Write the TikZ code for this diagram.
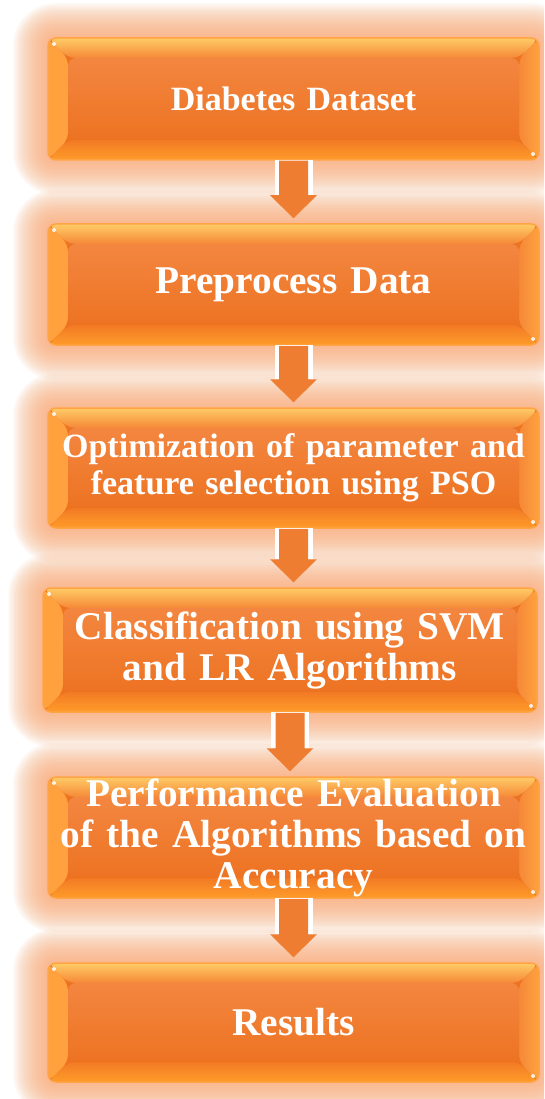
\documentclass[tikz,border=0pt]{standalone}
\usepackage{fontspec}
\setmainfont{Liberation Serif}
\usetikzlibrary{calc}
\pgfdeclarelayer{bg}
\pgfsetlayers{bg,main}
\definecolor{boxedge}{HTML}{FFA444}
\definecolor{bevTa}{HTML}{FFCB66}
\definecolor{bevTb}{HTML}{F58838}
\definecolor{bevBa}{HTML}{F27A24}
\definecolor{bevBb}{HTML}{FF9C2A}
\definecolor{bevSa}{HTML}{FFA23E}
\definecolor{bevSb}{HTML}{F58838}
\definecolor{inT}{HTML}{F38640}
\definecolor{inB}{HTML}{ED7322}
\definecolor{glowc}{HTML}{F9AE7C}
\definecolor{arrowc}{HTML}{EE7D31}
\tikzset{
  flowbox/.style={rectangle, rounded corners=8pt, minimum width=491pt, minimum height=121pt,
    text width=481pt, inner xsep=5pt, inner ysep=0pt, align=center, text=white,
    font=\bfseries\fontsize{39.3}{41}\selectfont,
    fill=inB, draw=boxedge, line width=1.5pt,
    path picture={
      \def\bv{20pt}
      \shade[left color=bevSa, right color=bevSb]
        (path picture bounding box.north west) -- ([xshift=\bv,yshift=-\bv]path picture bounding box.north west)
        -- ([xshift=\bv,yshift=\bv]path picture bounding box.south west) -- (path picture bounding box.south west) -- cycle;
      \shade[left color=bevSb, right color=bevSa]
        (path picture bounding box.north east) -- ([xshift=-\bv,yshift=-\bv]path picture bounding box.north east)
        -- ([xshift=-\bv,yshift=\bv]path picture bounding box.south east) -- (path picture bounding box.south east) -- cycle;
      \shade[top color=bevTa, bottom color=bevTb]
        (path picture bounding box.north west) -- (path picture bounding box.north east)
        -- ([xshift=-\bv,yshift=-\bv]path picture bounding box.north east) -- ([xshift=\bv,yshift=-\bv]path picture bounding box.north west) -- cycle;
      \shade[top color=bevBa, bottom color=bevBb]
        (path picture bounding box.south west) -- (path picture bounding box.south east)
        -- ([xshift=-\bv,yshift=\bv]path picture bounding box.south east) -- ([xshift=\bv,yshift=\bv]path picture bounding box.south west) -- cycle;
      \shade[top color=inT, bottom color=inB]
        ([xshift=\bv,yshift=-\bv]path picture bounding box.north west) rectangle ([xshift=-\bv,yshift=\bv]path picture bounding box.south east);
      \fill[white, opacity=0.85] ([xshift=6pt,yshift=-6pt]path picture bounding box.north west) circle (2pt);
      \fill[white, opacity=0.85] ([xshift=-6pt,yshift=6pt]path picture bounding box.south east) circle (2pt);
    }},
  smallfont/.style={font=\bfseries\fontsize{34}{37}\selectfont},
  arrowback/.style={fill=white},
  arrowbody/.style={fill=arrowc}
}
\newcommand{\flowarrow}[2]{%
  \path[arrowback] let \p1=(#1.south), \p2=(#1.south |- #2.north) in
    (\x1-19pt,\y1+1pt) rectangle (\x1+19pt,\y2+28pt);
  \path[arrowbody] let \p1=(#1.south), \p2=(#1.south |- #2.north) in
    (\x1-14.5pt,\y1) -- (\x1+14.5pt,\y1) -- (\x1+14.5pt,\y2+28pt) -- (\x1+23.5pt,\y2+28pt)
      -- (\x1,\y2+5pt) -- (\x1-23.5pt,\y2+28pt) -- (\x1-14.5pt,\y2+28pt) -- cycle;
}
\begin{document}
\begin{tikzpicture}[x=1pt,y=1pt]
\useasboundingbox (0,0) rectangle (544,-1099);
\node[flowbox, smallfont, minimum height=122pt] (b1) at (293.5,-99) {Diabetes Dataset};
\node[flowbox] (b2) at (293.5,-284.5) {Preprocess Data};
\node[flowbox, smallfont, minimum height=120pt] (b3) at (293.5,-468) {Optimization of parameter and\\feature selection using PSO};
\node[flowbox, minimum width=494pt, text width=484pt, minimum height=124pt] (b4) at (290,-650) {Classification using SVM\\and LR Algorithms};
\node[flowbox] (b5) at (293.5,-837.5) {Performance Evaluation\\of the Algorithms based on\\Accuracy};
\node[flowbox, minimum height=119pt] (b6) at (293.5,-1022.5) {Results};
\begin{pgfonlayer}{bg}
\clip (0,0) rectangle (544,-1099);
\fill[white] (0,0) rectangle (544,-1099);
\foreach \n in {b1,b2,b3,b4,b5,b6}{
  \foreach \i in {1,...,20}{
    \fill[glowc, opacity=0.075, rounded corners={8pt+1.7pt*\i}]
      ([xshift=-1.7pt*\i, yshift=1.7pt*\i]\n.north west) rectangle ([xshift=1.7pt*\i, yshift=-1.7pt*\i]\n.south east);
  }
}
\end{pgfonlayer}
\flowarrow{b1}{b2}
\flowarrow{b2}{b3}
\flowarrow{b3}{b4}
\flowarrow{b4}{b5}
\flowarrow{b5}{b6}
\end{tikzpicture}
\end{document}
